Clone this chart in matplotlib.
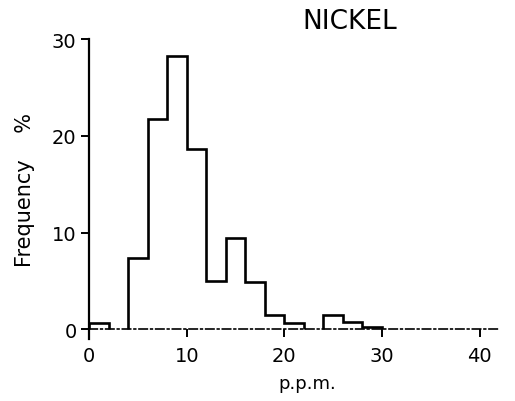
import numpy as np
import matplotlib.pyplot as plt

# histogram of nickel content, 2 ppm classes
bin_edges = [0, 2, 4, 6, 8, 10, 12, 14, 16, 18, 20, 22, 24, 26, 28, 30]
freq_pct = [0.7, 0.0, 7.4, 21.8, 28.3, 18.6, 5.0, 9.4, 4.9, 1.5, 0.7, 0.0, 1.5, 0.75, 0.3]
x_ticks = [0, 10, 20, 30, 40]
y_ticks = [0, 10, 20, 30]

fig = plt.figure(figsize=(5.15, 4.02), dpi=100)
ax = fig.add_axes([0.173, 0.154, 0.796, 0.746])

vals = np.array(freq_pct)
edges = np.array(bin_edges)

# draw each run of non-empty classes as its own outline
i = 0
while i < len(vals):
    if vals[i] > 0:
        j = i
        while j < len(vals) and vals[j] > 0:
            j += 1
        ax.stairs(vals[i:j], edges[i:j + 1], baseline=0, color='black', lw=1.9)
        i = j
    else:
        i += 1

ax.set_xlim(0, 42)
ax.set_ylim(-1, 30)

for s in ['top', 'right']:
    ax.spines[s].set_visible(False)
ax.spines['left'].set_linewidth(1.6)
ax.spines['bottom'].set_position(('data', 0))
ax.spines['bottom'].set_linewidth(1.2)
ax.spines['bottom'].set_linestyle((0, (5, 2, 1, 2)))

ax.set_xticks(x_ticks)
ax.set_yticks(y_ticks)
ax.tick_params(axis='both', direction='out', length=6, width=1.4, labelsize=14, pad=3)
ax.tick_params(axis='x', pad=6)

ax.set_ylabel('Frequency    %', fontsize=15, labelpad=12)
ax.text(22.3, -5.5, 'p.p.m.', fontsize=13, ha='center', va='center')
ax.text(26.7, 31.85, 'NICKEL', fontsize=19, ha='center', va='center')

fig.savefig('out.png', dpi=100)
